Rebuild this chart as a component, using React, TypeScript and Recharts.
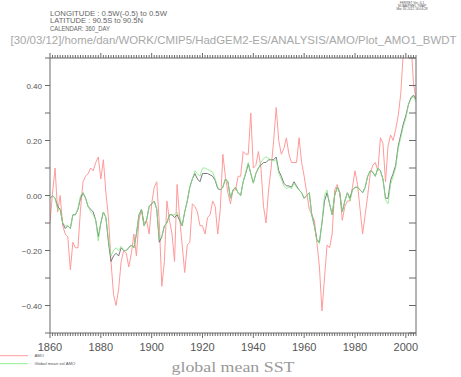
import React from "react";
import { LineChart, Line, XAxis, YAxis } from "recharts";

const years = [
  1860, 1861, 1862, 1863, 1864, 1865, 1866, 1867, 1868, 1869,
  1870, 1871, 1872, 1873, 1874, 1875, 1876, 1877, 1878, 1879,
  1880, 1881, 1882, 1883, 1884, 1885, 1886, 1887, 1888, 1889,
  1890, 1891, 1892, 1893, 1894, 1895, 1896, 1897, 1898, 1899,
  1900, 1901, 1902, 1903, 1904, 1905, 1906, 1907, 1908, 1909,
  1910, 1911, 1912, 1913, 1914, 1915, 1916, 1917, 1918, 1919,
  1920, 1921, 1922, 1923, 1924, 1925, 1926, 1927, 1928, 1929,
  1930, 1931, 1932, 1933, 1934, 1935, 1936, 1937, 1938, 1939,
  1940, 1941, 1942, 1943, 1944, 1945, 1946, 1947, 1948, 1949,
  1950, 1951, 1952, 1953, 1954, 1955, 1956, 1957, 1958, 1959,
  1960, 1961, 1962, 1963, 1964, 1965, 1966, 1967, 1968, 1969,
  1970, 1971, 1972, 1973, 1974, 1975, 1976, 1977, 1978, 1979,
  1980, 1981, 1982, 1983, 1984, 1985, 1986, 1987, 1988, 1989,
  1990, 1991, 1992, 1993, 1994, 1995, 1996, 1997, 1998, 1999,
  2000, 2001, 2002, 2003, 2004,
];

const amo = [
  -0.10, 0.01, 0.10, -0.06, 0.00, -0.11, -0.14, -0.15, -0.27, -0.17,
  -0.19, -0.19, -0.05, 0.05, 0.07, 0.08, 0.10, 0.09, 0.12, 0.14,
  0.06, 0.13, 0.01, -0.08, -0.24, -0.36, -0.40, -0.34, -0.24, -0.20,
  -0.21, -0.26, -0.21, -0.14, -0.22, -0.09, -0.05, -0.10, -0.09, -0.14,
  -0.03, 0.03, 0.05, -0.10, -0.33, -0.24, -0.02, -0.09, -0.14, -0.24,
  0.04, -0.08, -0.18, -0.28, -0.18, -0.17, -0.03, -0.04, -0.06, -0.11,
  -0.11, -0.14, -0.08, -0.07, -0.02, -0.04, -0.14, -0.05, 0.15, 0.07,
  0.01, -0.03, 0.02, 0.02, 0.07, 0.07, 0.16, 0.15, 0.15, 0.30,
  0.10, 0.11, 0.16, 0.10, -0.04, -0.10, 0.02, 0.10, 0.20, 0.32,
  0.20, 0.15, 0.17, 0.21, 0.15, 0.12, 0.12, 0.12, 0.21, 0.12,
  0.07, 0.01, -0.05, -0.07, -0.09, -0.17, -0.26, -0.42, -0.30, -0.18,
  -0.19, -0.14, 0.02, 0.04, 0.01, -0.09, -0.04, -0.02, -0.02, 0.03,
  0.09, 0.04, -0.05, -0.14, -0.07, 0.00, 0.08, 0.11, 0.12, 0.09,
  0.21, 0.19, 0.05, 0.18, 0.22, 0.20, 0.24, 0.29, 0.37, 0.52,
  0.58, 0.54, 0.56, 0.41, 0.35,
];

const globalMean = [
  -0.01, 0.00, -0.01, -0.04, -0.05, -0.10, -0.12, -0.11, -0.12, -0.07,
  -0.07, -0.05, -0.01, 0.01, -0.01, -0.04, -0.05, -0.06, -0.09, -0.15,
  -0.10, -0.06, -0.08, -0.17, -0.24, -0.22, -0.21, -0.22, -0.19, -0.20,
  -0.20, -0.19, -0.18, -0.19, -0.14, -0.07, -0.05, -0.11, -0.09, -0.04,
  -0.03, -0.02, -0.05, -0.17, -0.15, -0.11, -0.10, -0.07, -0.07, -0.08,
  -0.07, -0.09, -0.11, -0.06, -0.02, 0.03, 0.06, 0.08, 0.06, 0.05,
  0.08, 0.08, 0.08, 0.075, 0.07, 0.055, 0.025, 0.02, 0.03, 0.06,
  0.05, -0.01, 0.02, 0.03, 0.01, 0.00, 0.05, 0.08, 0.115, 0.08,
  0.045, 0.08, 0.10, 0.11, 0.12, 0.12, 0.13, 0.13, 0.13, 0.14,
  0.09, 0.07, 0.045, 0.035, 0.035, 0.03, 0.05, 0.035, 0.02, 0.01,
  -0.01, 0.00, 0.01, -0.07, -0.11, -0.16, -0.17, -0.10, -0.02, 0.01,
  -0.03, -0.07, 0.00, 0.03, 0.01, -0.06, -0.02, 0.01, -0.01, 0.02,
  0.03, 0.03, 0.02, 0.01, 0.03, 0.07, 0.09, 0.085, 0.07, 0.10,
  0.09, 0.06, -0.01, -0.01, 0.055, 0.08, 0.11, 0.18, 0.22, 0.26,
  0.29, 0.33, 0.355, 0.365, 0.35,
];

const globalExAmo = [
  -0.01, 0.00, -0.01, -0.05, -0.05, -0.10, -0.11, -0.11, -0.12, -0.07,
  -0.07, -0.05, 0.00, 0.01, -0.01, -0.04, -0.06, -0.07, -0.09, -0.165,
  -0.10, -0.06, -0.08, -0.16, -0.22, -0.20, -0.19, -0.20, -0.185, -0.20,
  -0.20, -0.19, -0.18, -0.19, -0.14, -0.07, -0.05, -0.11, -0.09, -0.04,
  -0.03, -0.02, -0.05, -0.16, -0.15, -0.11, -0.10, -0.07, -0.07, -0.07,
  -0.06, -0.08, -0.11, -0.06, -0.02, 0.03, 0.06, 0.09, 0.08, 0.07,
  0.10, 0.10, 0.095, 0.09, 0.085, 0.06, 0.03, 0.02, 0.03, 0.06,
  0.05, -0.01, 0.02, 0.03, 0.01, 0.00, 0.05, 0.085, 0.12, 0.08,
  0.045, 0.08, 0.10, 0.12, 0.135, 0.14, 0.135, 0.13, 0.125, 0.13,
  0.08, 0.06, 0.035, 0.025, 0.03, 0.025, 0.045, 0.03, 0.02, 0.01,
  -0.01, 0.00, 0.01, -0.07, -0.11, -0.165, -0.175, -0.10, 0.00, 0.02,
  -0.03, -0.07, 0.00, 0.03, 0.01, -0.06, -0.02, 0.01, -0.02, 0.02,
  0.03, 0.03, 0.02, 0.01, 0.03, 0.07, 0.09, 0.085, 0.07, 0.10,
  0.09, 0.06, -0.015, -0.03, 0.04, 0.07, 0.10, 0.17, 0.21, 0.25,
  0.28, 0.33, 0.35, 0.36, 0.34,
];

const xTicks = years;
const xLabelYears = [1860, 1880, 1900, 1920, 1940, 1960, 1980, 2000];
const yTicks = [-0.5, -0.4, -0.3, -0.2, -0.1, 0, 0.1, 0.2, 0.3, 0.4, 0.5];
const yLabelValues = [-0.4, -0.2, 0, 0.2, 0.4];

const infoLines = [
  "LONGITUDE : 0.5W(-0.5) to 0.5W",
  "LATITUDE : 90.5S to 90.5N",
  "CALENDAR: 360_DAY",
];
const infoWidths = [117, 93, 60];
const ferretLines = ["FERRET Ver. 6.1", "NOAA/PMEL TMAP", "Mar 30 2012 16:04:28"];
const pathTitle = "[30/03/12]/home/dan/WORK/CMIP5/HadGEM2-ES/ANALYSIS/AMO/Plot_AMO1_BWDT";
const xTitle = "global mean SST";
const legendItems = [
  { name: "AMO", color: "#ff9a9a" },
  { name: "Global mean exl AMO", color: "#8fef8f" },
];

const data = years.map((y, i) => ({
  year: y,
  amo: amo[i],
  gm: globalMean[i],
  gx: globalExAmo[i],
}));

const AXIS = "#6a6a6a";
const FONT = "'Liberation Sans', Arial, sans-serif";

const BottomTick = (props: any) => {
  const { x, y, payload } = props;
  const v = payload.value;
  const major = xLabelYears.includes(v);
  return (
    <g>
      <line x1={x} x2={x} y1={y} y2={y + (major ? 5 : 3)} stroke={AXIS} strokeWidth={1} />
      {major && (
        <text x={x} y={y + 18} textAnchor="middle" fontSize={11} fill="#555" fontFamily={FONT}>
          {v}
        </text>
      )}
    </g>
  );
};

const TopTick = (props: any) => {
  const { x, y, payload } = props;
  const major = xLabelYears.includes(payload.value);
  return <line x1={x} x2={x} y1={y} y2={y - (major ? 5 : 3)} stroke={AXIS} strokeWidth={1} />;
};

const fmt = (v: number) => {
  const s = Math.abs(v).toFixed(2);
  return v < -0.001 ? "\u2212" + s : s;
};

const LeftTick = (props: any) => {
  const { x, y, payload } = props;
  const v = payload.value;
  const lab = yLabelValues.some((l) => Math.abs(l - v) < 1e-6);
  return (
    <g>
      <line x1={x - 5} x2={x} y1={y} y2={y} stroke={AXIS} strokeWidth={1} />
      {lab && (
        <text x={x - 8} y={y + 3} textAnchor="end" fontSize={8} fill="#555" fontFamily={FONT}>
          {fmt(v)}
        </text>
      )}
    </g>
  );
};

const RightTick = (props: any) => {
  const { x, y } = props;
  return <line x1={x - 7} x2={x} y1={y} y2={y} stroke={AXIS} strokeWidth={1} />;
};

export default function App() {
  return (
    <div style={{ position: "absolute", left: 0, top: 0, width: 461, height: 377, background: "#fff" }}>
      <LineChart
        width={461}
        height={377}
        data={data}
        margin={{ top: 57, right: 44, bottom: 43, left: 0 }}
      >
        <XAxis
          xAxisId="b"
          dataKey="year"
          type="number"
          domain={[1860, 2004]}
          allowDataOverflow
          ticks={xTicks}
          interval={0}
          height={1}
          tickSize={0}
          tickMargin={0}
          tickLine={false}
          axisLine={{ stroke: AXIS }}
          tick={<BottomTick />}
        />
        <XAxis
          xAxisId="t"
          orientation="top"
          dataKey="year"
          type="number"
          domain={[1860, 2004]}
          allowDataOverflow
          ticks={xTicks}
          interval={0}
          height={1}
          tickSize={0}
          tickMargin={0}
          tickLine={false}
          axisLine={{ stroke: AXIS }}
          tick={<TopTick />}
        />
        <YAxis
          yAxisId="l"
          type="number"
          domain={[-0.5, 0.5]}
          allowDataOverflow
          ticks={yTicks}
          interval={0}
          width={50}
          tickSize={0}
          tickMargin={0}
          tickLine={false}
          axisLine={{ stroke: AXIS }}
          tick={<LeftTick />}
        />
        <YAxis
          yAxisId="r"
          orientation="right"
          type="number"
          domain={[-0.5, 0.5]}
          allowDataOverflow
          ticks={yTicks}
          interval={0}
          width={1}
          tickSize={0}
          tickMargin={0}
          tickLine={false}
          axisLine={{ stroke: AXIS }}
          tick={<RightTick />}
        />
        <Line
          xAxisId="b"
          yAxisId="l"
          type="linear"
          dataKey="amo"
          stroke="#ff9a9a"
          strokeWidth={1}
          dot={false}
          isAnimationActive={false}
        />
        <Line
          xAxisId="b"
          yAxisId="l"
          type="linear"
          dataKey="gm"
          stroke="#7a7a7a"
          strokeWidth={1}
          dot={false}
          isAnimationActive={false}
        />
        <Line
          xAxisId="b"
          yAxisId="l"
          type="linear"
          dataKey="gx"
          stroke="#7ee87e"
          strokeOpacity={0.75}
          strokeWidth={1}
          dot={false}
          isAnimationActive={false}
        />
      </LineChart>
      <svg
        width={461}
        height={377}
        style={{ position: "absolute", left: 0, top: 0, pointerEvents: "none" }}
      >
        {infoLines.map((t, i) => (
          <text
            key={t}
            x={50}
            y={16 + i * 7.4}
            fontSize={6.3}
            fill="#666"
            fontFamily={FONT}
            textLength={infoWidths[i]}
            lengthAdjust="spacingAndGlyphs"
          >
            {t}
          </text>
        ))}
        {ferretLines.map((t, i) => (
          <text key={t} x={412} y={3.8 + i * 3.3} fontSize={3.2} fill="#555" textAnchor="middle" fontFamily={FONT}>
            {t}
          </text>
        ))}
        <text
          x={10.5}
          y={44}
          fontSize={11}
          fill="#a8a8a8"
          fontFamily={FONT}
          textLength={446}
          lengthAdjust="spacingAndGlyphs"
        >
          {pathTitle}
        </text>
        <text
          x={233}
          y={372}
          fontSize={15}
          fill="#999"
          textAnchor="middle"
          fontFamily="'Liberation Serif', 'DejaVu Serif', serif"
          textLength={123}
          lengthAdjust="spacingAndGlyphs"
        >
          {xTitle}
        </text>
        {legendItems.map((it, i) => (
          <g key={it.name}>
            <line x1={0} x2={28} y1={355.7 + i * 8} y2={355.7 + i * 8} stroke={it.color} strokeWidth={1} />
            <text x={34.5} y={357 + i * 8} fontSize={4.2} fill="#555" fontFamily={FONT}>
              {it.name}
            </text>
          </g>
        ))}
      </svg>
    </div>
  );
}
